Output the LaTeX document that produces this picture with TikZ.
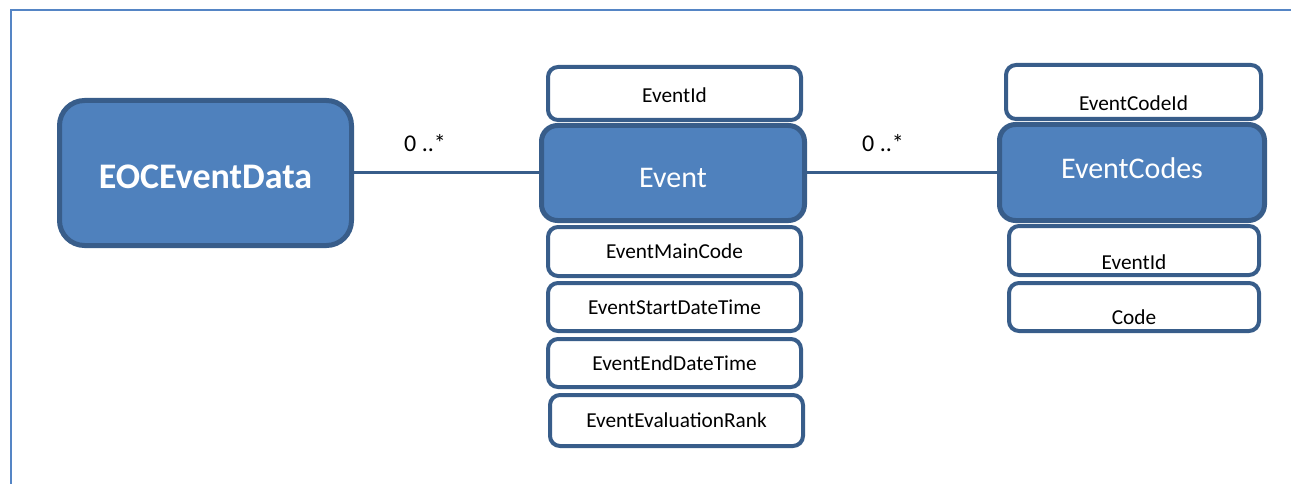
\documentclass[tikz,border=0pt]{standalone}
\usepackage{fontspec}
\setmainfont{Carlito}
\definecolor{boxfill}{HTML}{4F81BD}
\definecolor{boxline}{HTML}{385D8A}
\definecolor{framecol}{HTML}{5585C5}
\tikzset{
  mainbox/.style={draw=boxline, line width=5pt, fill=boxfill, text=white, inner sep=0pt, rectangle},
  attrbox/.style={draw=boxline, line width=4pt, fill=white, text=black, inner sep=0pt, rectangle,
    rounded corners=10pt, font=\fontsize{21.3}{24}\selectfont},
  conn/.style={draw=boxline, line width=3pt},
  mult/.style={anchor=base west, inner sep=0pt, font=\fontsize{24}{28}\selectfont}
}
\newcommand{\dn}[2]{\raisebox{-#1}[\height][\depth]{#2}}
\begin{document}
\begin{tikzpicture}[x=1pt, y=-1pt]
\useasboundingbox (0,0) rectangle (1291,484);
% frame
\draw[framecol, line width=2.5pt] (11,485) -- (11,10) -- (1292,10);

% Event attributes
\node[attrbox, minimum width=253pt, minimum height=53pt] (eid) at (674.5,93.5) {\dn{1.5pt}{EventId}};
\node[attrbox, minimum width=253pt, minimum height=49pt] (emc) at (674.5,251.5) {EventMainCode};
\node[attrbox, minimum width=253pt, minimum height=48pt] (esd) at (674.5,307) {EventStartDateTime};
\node[attrbox, minimum width=253pt, minimum height=48pt] (eed) at (674.5,363) {EventEndDateTime};
\node[attrbox, minimum width=253pt, minimum height=51pt] (eer) at (676.5,420.5) {EventEvaluationRank};

% EventCodes attributes
\node[attrbox, minimum width=255pt, minimum height=54pt] (ecid) at (1133.5,92) {\dn{11pt}{EventCodeId}};
\node[attrbox, minimum width=250pt, minimum height=49pt] (ceid) at (1134,250.5) {\dn{11.5pt}{EventId}};
\node[attrbox, minimum width=250pt, minimum height=48pt] (code) at (1134,307) {\dn{10pt}{Code}};

% main boxes
\node[mainbox, rounded corners=25pt, minimum width=292pt, minimum height=145pt,
  font=\fontsize{36}{40}\selectfont\bfseries] (eoc) at (205.5,173) {\dn{4pt}{EOCEventData}};
\node[mainbox, rounded corners=16pt, minimum width=263pt, minimum height=95pt,
  font=\fontsize{30}{34}\selectfont] (event) at (673,173) {\dn{5pt}{Event}};
\node[mainbox, rounded corners=16pt, minimum width=265pt, minimum height=96pt,
  font=\fontsize{30}{34}\selectfont] (codes) at (1132,172.5) {\dn{-4pt}{EventCodes}};

% connectors
\draw[conn] (eoc.east |- 0,172.5) -- (event.west |- 0,172.5);
\draw[conn] (event.east |- 0,172.5) -- (codes.west |- 0,172.5);

% multiplicities
\node[mult] (m1) at (404,152) {0 ..*};
\node[mult] (m2) at (862,152) {0 ..*};
\end{tikzpicture}
\end{document}
